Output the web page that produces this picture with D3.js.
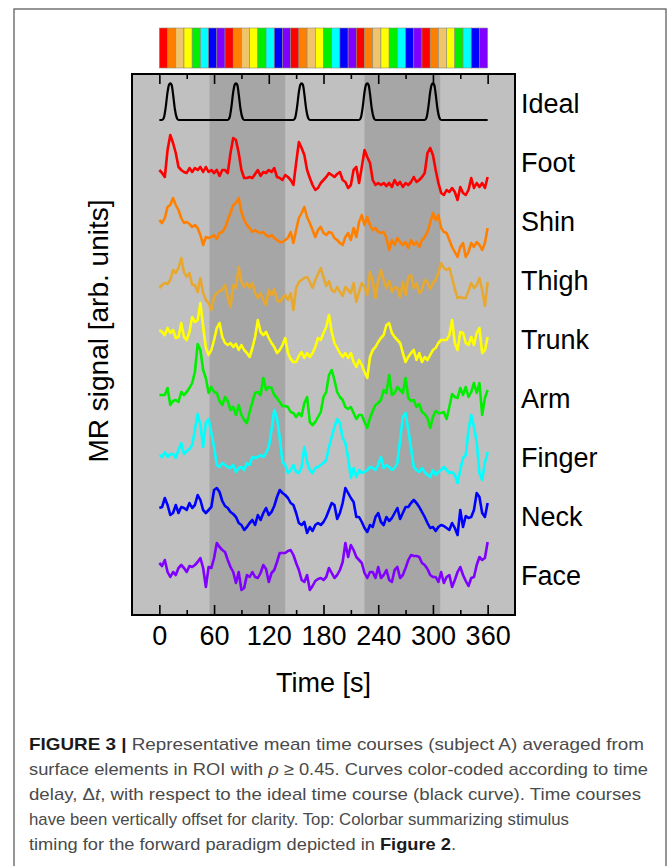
<!DOCTYPE html>
<html>
<head>
<meta charset="utf-8">
<script src="https://d3js.org/d3.v7.min.js"></script>
<style>
    body {
        margin: 0;
        background: #fff;
        font-family: "Liberation Sans", Arial, sans-serif;
    }
</style>
</head>
<body>
<script>
// sample times of the measured curves (s)
const time = d3.range(0, 361, 3);

// ideal time course, sampled at its break points
const idealTime = [0, 3, 5, 7, 9, 10.5, 12, 13.5, 15, 17, 19, 21,
    75, 77, 79, 81, 82.5, 84, 85.5, 87, 89, 91, 93,
    147, 149, 151, 153, 154.5, 156, 157.5, 159, 161, 163, 165,
    219, 221, 223, 225, 226.5, 228, 229.5, 231, 233, 235, 237,
    291, 293, 295, 297, 298.5, 300, 301.5, 303, 305, 307, 309, 360];
const idealSignal = [-1.6, -1.6, -1.35, -0.3, 1.2, 1.9, 2.07, 1.9, 1.0, -0.5, -1.35, -1.6,
    -1.6, -1.35, -0.3, 1.2, 1.9, 2.07, 1.9, 1.0, -0.5, -1.35, -1.6,
    -1.6, -1.35, -0.3, 1.2, 1.9, 2.07, 1.9, 1.0, -0.5, -1.35, -1.6,
    -1.6, -1.35, -0.3, 1.2, 1.9, 2.07, 1.9, 1.0, -0.5, -1.35, -1.6,
    -1.6, -1.35, -0.3, 1.2, 1.9, 2.07, 1.9, 1.0, -0.5, -1.35, -1.6, -1.6];

const foot = [-0.7,-1.0,-1.4,1.3,2.8,2.0,1.0,-0.4,-0.7,-0.9,
    -1.0,-0.5,-0.9,-0.5,-0.7,-0.4,-0.9,-0.4,-0.9,-0.7,
    -1.0,-0.7,-1.3,-0.7,-0.7,-1.0,1.0,2.5,2.3,1.0,
    -0.7,-1.5,-1.5,-1.4,-1.5,-1.1,-0.7,-1.3,-0.9,-1.0,
    -0.7,-0.9,-0.5,-1.4,-1.5,-1.7,-1.2,-1.4,-1.7,-2.2,
    0.0,2.1,1.5,0.8,-0.7,-1.5,-2.2,-2.7,-2.5,-2.0,
    -1.7,-1.4,-1.0,-1.2,-1.4,-1.1,-0.9,-1.7,-1.9,-2.5,
    -2.2,-0.7,-0.4,-2.0,-0.4,1.3,0.6,0.0,-1.7,-2.2,
    -2.0,-2.2,-2.0,-2.3,-2.0,-2.4,-1.7,-2.2,-1.9,-2.4,
    -2.0,-2.2,-1.9,-1.4,-1.9,-1.7,-1.4,-1.0,1.0,1.5,
    0.8,-0.7,-2.0,-3.0,-3.2,-2.7,-2.9,-2.5,-2.9,-3.7,
    -2.4,-3.0,-3.2,-2.7,-1.5,-2.5,-2.0,-2.4,-2.0,-2.5,
    -1.4];

const shin = [0.2,-0.1,0.4,1.5,1.7,2.4,1.7,1.2,0.4,-0.1,
    0.0,-0.2,-0.5,-0.3,-0.6,-1.3,-2.3,-1.5,-1.6,-1.5,
    -1.3,-1.7,-1.1,-1.0,-0.6,0.2,0.9,1.7,1.9,2.4,
    1.0,0.2,-0.3,-0.6,-1.0,-0.8,-1.0,-1.1,-1.0,-1.3,
    -1.5,-1.3,-1.6,-1.8,-2.0,-2.0,-1.8,-1.6,-1.0,-2.1,
    -0.8,0.4,0.9,1.5,0.5,-0.1,-0.8,-1.5,-0.8,-0.5,
    -1.1,-1.3,-1.0,-1.1,-1.6,-1.8,-2.1,-2.3,-1.5,-1.1,
    -1.8,-0.6,-1.5,0.0,0.7,-0.3,0.5,-0.3,-0.8,-0.6,
    -1.0,-1.1,-1.0,-1.6,-2.8,-1.8,-2.3,-1.6,-2.0,-2.3,
    -2.0,-2.6,-1.8,-2.3,-2.0,-2.5,-1.8,-1.5,-1.0,-0.1,
    0.9,0.2,0.7,-0.6,-1.0,-1.1,-1.8,-2.5,-3.0,-3.5,
    -2.5,-2.1,-3.5,-3.0,-2.1,-2.5,-2.0,-2.3,-2.8,-2.1,
    -0.6];

const thigh = [-0.7,-0.4,-0.2,-0.3,0.1,1.1,0.8,1.3,2.3,0.9,
    0.4,0.8,-0.4,-0.4,-1.1,0.3,-1.2,-1.9,-2.2,-2.9,
    -1.6,-1.2,-1.0,-0.9,-0.4,-1.6,-2.6,-0.4,-0.7,1.4,
    -0.1,-0.6,-0.2,-0.7,-0.2,-1.2,-1.7,-1.2,-1.9,-2.4,
    -0.9,-1.4,-0.8,-1.9,-2.1,-1.7,-1.4,-1.9,-1.2,-2.9,
    -0.7,-0.1,0.1,0.3,0.4,-0.1,-0.7,0.1,0.7,1.3,
    0.4,-0.5,0.0,-0.9,-1.1,-0.6,-1.1,-1.5,-0.6,-0.9,
    -1.2,-0.2,-2.1,-1.1,-0.2,-0.6,-1.4,0.9,-0.1,-1.7,
    0.1,1.1,0.1,-0.7,0.0,-1.1,-0.6,-0.7,-1.6,-0.1,
    -1.4,0.4,0.6,-0.7,-0.2,-1.2,-0.9,0.1,-0.1,-0.8,
    -0.2,0.1,0.8,1.8,1.3,1.1,1.3,0.3,-0.8,-1.7,
    -1.6,-1.7,-1.7,-1.0,-0.2,-0.7,-0.4,0.3,-0.9,-2.5,
    -0.1];

const trunk = [1.0,0.8,0.5,1.2,0.7,1.0,0.2,0.3,1.7,0.3,
    0.0,0.8,2.3,1.8,2.0,3.7,1.3,-0.8,-1.5,-1.0,
    0.0,1.2,1.7,0.3,-0.3,-0.5,-0.3,-0.7,-0.4,-1.0,
    -0.5,-1.0,-1.3,-1.7,-0.8,0.3,2.0,0.8,0.5,0.8,
    0.2,-0.3,-0.7,-1.3,-1.0,-0.5,0.2,-1.3,-1.9,-2.2,
    -2.2,-1.6,-1.2,-1.8,-1.3,-1.7,-1.3,-0.7,0.2,0.0,
    0.7,1.3,2.5,0.8,-0.3,-0.8,-1.3,-1.7,-1.3,-1.8,
    -1.3,-2.2,-2.7,-2.0,-2.5,-3.2,-3.8,-1.7,-1.0,-0.7,
    -0.2,0.2,0.5,1.5,1.7,0.7,0.3,0.0,-0.3,-1.3,
    -2.2,-1.7,-1.3,-1.0,-2.0,-1.3,-2.2,-1.7,-2.0,-1.5,
    -1.0,-0.8,-0.3,0.0,0.0,0.0,0.5,2.0,-0.3,-1.0,
    0.8,0.7,-0.3,-0.5,0.3,-0.5,0.7,1.2,-1.3,-1.0,
    0.3];

const arm = [0.4,0.4,0.4,1.1,-0.6,-0.2,-0.1,-0.3,0.7,0.4,
    0.7,1.1,1.6,2.7,5.5,4.9,2.9,2.1,0.6,1.2,
    0.7,0.6,-0.2,-0.6,0.2,-0.2,-1.1,-0.8,-1.6,-0.6,
    -1.6,-2.1,-2.4,-1.3,-0.3,0.6,0.7,0.4,2.1,0.9,
    1.2,1.1,0.4,0.1,-0.3,-0.7,-0.7,-0.8,-1.3,-1.4,
    -1.8,-1.4,-1.7,-0.4,0.2,-2.3,-2.6,-2.3,-1.8,-1.3,
    0.2,0.7,2.4,2.9,1.9,0.7,0.2,-0.1,-0.8,-1.0,
    -0.8,-1.4,-2.0,-1.6,-1.6,-2.3,-2.9,-1.9,-1.2,-0.6,
    -0.4,-0.1,0.9,0.6,2.4,0.4,0.6,1.2,0.9,0.6,
    2.1,0.1,-0.2,-0.1,-0.8,-0.5,-1.3,-1.5,-1.9,-2.9,
    -1.8,-1.2,-1.4,-1.4,-1.3,-2.0,-0.8,0.5,0.2,0.1,
    1.1,0.4,1.2,0.2,0.7,1.6,0.6,1.6,-1.6,0.1,
    0.9];

const finger = [0.3,0.1,0.6,0.1,0.4,0.4,0.0,0.8,1.5,0.4,
    0.7,0.9,1.3,2.8,4.4,3.3,1.1,3.5,3.9,2.5,
    1.1,-0.7,-0.9,-0.5,-0.7,-0.9,-1.0,-0.7,-1.4,-1.0,
    -0.9,-1.2,-0.5,-0.7,0.1,0.0,0.1,0.3,0.1,0.5,
    1.1,2.8,4.8,4.0,2.0,-0.4,-0.7,-1.5,-1.2,-0.7,
    -1.4,-1.5,-0.9,1.1,-0.4,-1.2,-1.5,-1.0,-0.9,-0.7,
    -0.5,-0.2,1.1,2.1,3.1,3.9,3.5,2.0,1.5,0.0,
    -2.0,-1.0,-1.9,-1.2,-1.5,-1.4,-1.2,-0.9,-1.0,-1.2,
    -0.7,0.1,-1.0,-0.7,-0.9,-1.2,-1.0,-0.5,1.8,4.1,
    4.5,2.8,1.0,-0.9,-1.2,-1.4,-1.0,-1.4,-1.7,-1.9,
    -1.2,-1.7,-1.4,-1.2,-0.9,-1.2,-1.5,-1.4,-1.7,-2.5,
    -1.2,0.0,0.3,2.8,4.3,3.1,1.6,-1.5,-2.2,-0.5,
    0.6];

const neck = [0.9,1.0,1.9,1.2,0.2,0.4,1.2,0.4,1.0,0.9,
    0.7,1.4,0.9,1.2,2.2,1.7,0.7,0.4,0.7,1.0,
    2.7,2.9,2.5,1.6,1.1,0.9,0.5,0.3,0.0,-0.6,
    -0.8,-1.3,-1.0,-0.6,-0.3,-0.8,0.2,-0.3,0.4,0.9,
    0.2,0.5,1.1,2.0,2.7,2.4,2.2,1.9,1.4,1.2,
    0.4,-0.6,-0.8,-0.5,-1.6,-1.0,-1.4,-0.8,-0.6,-0.8,
    -0.5,0.0,0.7,1.4,1.2,-0.2,0.4,1.4,2.9,2.4,
    1.9,1.5,0.0,0.0,-0.5,-1.1,-1.5,-0.8,-1.0,0.0,
    0.4,-0.5,-0.8,0.0,-0.4,-0.1,0.4,0.9,-0.2,0.4,
    1.0,1.0,1.4,1.7,1.4,1.0,0.5,0.0,-0.6,-1.1,
    -1.0,-1.4,-1.0,-0.8,-0.9,-1.1,-1.3,-0.6,-1.1,-1.8,
    0.7,-1.0,0.1,-0.1,0.0,0.7,2.4,2.0,0.4,0.0,
    1.4];

const face = [1.3,1.0,1.6,0.4,-0.1,0.4,0.1,0.8,1.1,0.8,
    0.4,1.0,0.9,1.1,1.4,1.8,0.8,-1.1,0.9,0.8,
    1.8,3.3,2.9,2.6,2.4,1.6,0.9,0.4,-0.7,0.4,
    -1.4,-1.2,0.1,-0.1,0.4,-0.1,-0.2,0.3,1.1,0.7,
    -0.6,0.3,0.6,1.4,2.3,2.3,2.3,2.5,2.6,2.1,
    1.3,0.6,-0.4,-0.6,0.1,-1.4,-1.0,-0.5,-0.3,-0.2,
    -0.4,-0.1,0.8,0.3,-0.2,0.1,0.6,1.4,3.3,1.9,
    3.1,2.6,1.9,1.6,1.3,0.3,-0.2,0.4,0.4,-0.2,
    0.9,-0.2,0.1,0.6,-0.4,-0.6,0.6,0.9,-0.2,0.1,
    0.8,1.6,2.1,2.0,2.0,1.9,1.3,1.1,0.7,0.1,
    -0.1,-0.1,-0.6,0.4,-0.7,-0.1,0.1,-1.1,-0.4,0.4,
    0.9,0.1,-0.5,-1.0,-0.2,-0.1,1.1,1.9,1.6,1.8,
    3.4];

const seriesNames = ["Ideal", "Foot", "Shin", "Thigh", "Trunk", "Arm", "Finger", "Neck", "Face"];
const seriesColors = ["#000000", "#ff0000", "#ff8000", "#e8a82e", "#ffff00", "#00ee00", "#00ffff", "#0000ff", "#8000ff"];
const measured = [foot, shin, thigh, trunk, arm, finger, neck, face];

// colorbar of the stimulus timing
const stimColors = ["#ff0000", "#ff8000", "#efc46a", "#ffff00", "#00ee00", "#00ffff", "#0000ff", "#8000ff"];
const stimStart = d3.range(0, 360, 9);
const stimLength = 9;

const darkBands = [[55, 138], [225, 308]];
const majorTicks = [0, 60, 120, 180, 240, 300, 360];
const minorTicks = [30, 90, 150, 210, 270, 330];

const width = 670, height = 866;
const plot = { left: 132, right: 515, top: 74, bottom: 615 };
const offsetStep = 5.9;

const svg = d3.select("body").append("svg")
    .attr("width", width)
    .attr("height", height);

// outer frame
svg.append("rect")
    .attr("x", 14).attr("y", 9)
    .attr("width", 652).attr("height", 900)
    .attr("fill", "none")
    .attr("stroke", "#5e5e5e")
    .attr("stroke-width", 1.3);

const x = d3.scaleLinear().domain([-30, 390]).range([plot.left, plot.right]);
const y = d3.scaleLinear().domain([-51.1, 3.0]).range([plot.bottom, plot.top]);

// background and shaded blocks
svg.append("rect")
    .attr("x", plot.left).attr("y", plot.top)
    .attr("width", plot.right - plot.left)
    .attr("height", plot.bottom - plot.top)
    .attr("fill", "#c0c0c0");

svg.append("g")
    .selectAll("rect")
    .data(darkBands)
    .enter().append("rect")
    .attr("x", d => x(d[0]))
    .attr("width", d => x(d[1]) - x(d[0]))
    .attr("y", plot.top)
    .attr("height", plot.bottom - plot.top)
    .attr("fill", "#a6a6a6");

// colorbar
svg.append("g")
    .selectAll("rect")
    .data(stimStart)
    .enter().append("rect")
    .attr("x", d => x(d))
    .attr("width", d => x(d + stimLength) - x(d))
    .attr("y", 28)
    .attr("height", 40)
    .attr("fill", (d, i) => stimColors[i % stimColors.length])
    .attr("stroke", "#8a8a7a")
    .attr("stroke-width", 0.6);

// curves
const line = d3.line()
    .x(d => x(d.t))
    .y(d => y(d.v));

const idealData = idealTime.map((t, i) => ({ t: t, v: idealSignal[i] }));
svg.append("path")
    .datum(idealData)
    .attr("fill", "none")
    .attr("stroke", seriesColors[0])
    .attr("stroke-width", 2.2)
    .attr("stroke-linejoin", "round")
    .attr("d", line.curve(d3.curveMonotoneX));

line.curve(d3.curveLinear);
measured.forEach((values, k) => {
    const off = -offsetStep * (k + 1);
    const pts = time.map((t, i) => ({ t: t, v: values[i] + off }));
    svg.append("path")
        .datum(pts)
        .attr("fill", "none")
        .attr("stroke", seriesColors[k + 1])
        .attr("stroke-width", 2.6)
        .attr("stroke-linejoin", "round")
        .attr("d", line);
});

// axes: ticks inside the box, top and bottom
function styleAxis(g) {
    g.select(".domain").remove();
    g.selectAll(".tick line").attr("stroke", "#000").attr("stroke-width", 1.6);
}

svg.append("g")
    .attr("transform", `translate(0,${plot.bottom})`)
    .call(d3.axisBottom(x).tickValues(majorTicks).tickSizeInner(-10).tickSizeOuter(0)
        .tickPadding(11).tickFormat(d3.format("d")))
    .call(styleAxis)
    .call(g => g.selectAll("text")
        .attr("fill", "#000")
        .style("font-size", "27px")
        .style("font-family", "'Liberation Sans', Arial, sans-serif"));

svg.append("g")
    .attr("transform", `translate(0,${plot.bottom})`)
    .call(d3.axisBottom(x).tickValues(minorTicks).tickSizeInner(-5).tickSizeOuter(0).tickFormat(""))
    .call(styleAxis);

svg.append("g")
    .attr("transform", `translate(0,${plot.top})`)
    .call(d3.axisTop(x).tickValues(majorTicks).tickSizeInner(-10).tickSizeOuter(0).tickFormat(""))
    .call(styleAxis);

svg.append("g")
    .attr("transform", `translate(0,${plot.top})`)
    .call(d3.axisTop(x).tickValues(minorTicks).tickSizeInner(-5).tickSizeOuter(0).tickFormat(""))
    .call(styleAxis);

// box
svg.append("rect")
    .attr("x", plot.left).attr("y", plot.top)
    .attr("width", plot.right - plot.left)
    .attr("height", plot.bottom - plot.top)
    .attr("fill", "none")
    .attr("stroke", "#000")
    .attr("stroke-width", 2);

// series labels on the right
svg.append("g")
    .selectAll("text")
    .data(seriesNames)
    .enter().append("text")
    .attr("x", 521)
    .attr("y", (d, i) => y(-offsetStep * i) + 9)
    .style("font-size", "27px")
    .attr("fill", "#000")
    .text(d => d);

// axis titles
svg.append("text")
    .attr("x", x(180))
    .attr("y", 692)
    .attr("text-anchor", "middle")
    .style("font-size", "27px")
    .text("Time [s]");

svg.append("text")
    .attr("transform", "translate(108,331) rotate(-90)")
    .attr("text-anchor", "middle")
    .style("font-size", "28px")
    .text("MR signal [arb. units]");

// caption
const caption = [
    { y: 750, len: 615, parts: [{ t: "FIGURE 3 | ", b: true }, { t: "Representative mean time courses (subject A) averaged from" }] },
    { y: 775, len: 619, parts: [{ t: "surface elements in ROI with " }, { t: "ρ", i: true }, { t: " ≥ 0.45. Curves color-coded according to time" }] },
    { y: 800, len: 612, parts: [{ t: "delay, Δ" }, { t: "t", i: true }, { t: ", with respect to the ideal time course (black curve). Time courses" }] },
    { y: 825, len: 540, parts: [{ t: "have been vertically offset for clarity. Top: Colorbar summarizing stimulus" }] },
    { y: 850, len: 427, parts: [{ t: "timing for the forward paradigm depicted in " }, { t: "Figure 2", b: true }, { t: "." }] }
];

caption.forEach(c => {
    const txt = svg.append("text")
        .attr("x", 29)
        .attr("y", c.y)
        .attr("textLength", c.len)
        .attr("lengthAdjust", "spacingAndGlyphs")
        .style("font-size", "17px")
        .attr("fill", "#4a4a4a");
    c.parts.forEach(p => {
        txt.append("tspan")
            .attr("font-weight", p.b ? "bold" : null)
            .attr("font-style", p.i ? "italic" : null)
            .attr("fill", p.b ? "#1a1a1a" : null)
            .text(p.t);
    });
});
</script>
</body>
</html>
